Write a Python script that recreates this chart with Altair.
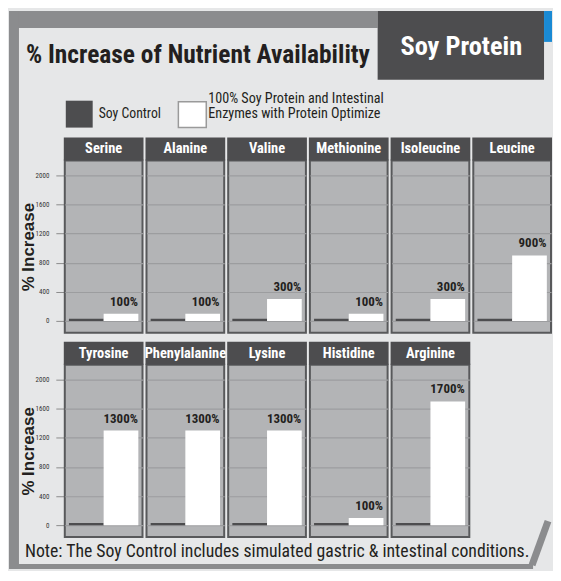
import altair as alt
import pandas as pd

aminos = ["Serine", "Alanine", "Valine", "Methionine", "Isoleucine", "Leucine",
          "Tyrosine", "Phenylalanine", "Lysine", "Histidine", "Arginine"]
series = ["Soy Control", "100% Soy Protein and Intestinal Enzymes with Protein Optimize"]
control_vals = [30, 30, 30, 30, 30, 30, 30, 30, 30, 30, 30]
optimize_vals = [100, 100, 300, 100, 300, 900, 1300, 1300, 1300, 100, 1700]
y_ticks = [0, 400, 800, 1200, 1600, 2000]

rows = []
for a, c, o in zip(aminos, control_vals, optimize_vals):
    rows.append({"amino": a, "series": series[0], "value": c, "label": ""})
    rows.append({"amino": a, "series": series[1], "value": o, "label": f"{o}%"})
df = pd.DataFrame(rows)

COND = "Roboto Condensed, Liberation Sans Narrow, DejaVu Sans Condensed, sans-serif"
SANS = "Liberation Sans, Arial, sans-serif"
DARK = "#4d4d4f"
FRAME = "#8b8c8e"
BG = "#e6e7e8"

W, H = 78, 173

x_enc = alt.X("series:N", sort=series, axis=None,
              scale=alt.Scale(paddingInner=0, paddingOuter=0.12))
y_axis = alt.Axis(values=y_ticks, title="% Increase", grid=True, format="d",
                  gridColor="#9c9d9f", gridWidth=1.2, domain=False, labelOverlap=False,
                  tickSize=9, tickColor="#8c8c8c", labelPadding=7,
                  labelFont=COND, labelFontSize=7, labelColor="#333333",
                  titleFont=SANS, titleFontSize=17, titleFontWeight="bold",
                  titleColor="#231f20", titlePadding=-2)
y_enc = alt.Y("value:Q", axis=y_axis,
              scale=alt.Scale(domain=[-164, 2205], nice=False, zero=False))

bars = alt.Chart().mark_bar().encode(
    x=x_enc, y=y_enc, y2=alt.datum(0),
    color=alt.Color("series:N", scale=alt.Scale(domain=series, range=[DARK, "#ffffff"]), legend=None),
)

labels = alt.Chart().transform_filter(
    alt.datum.series == series[1]
).mark_text(align="right", baseline="bottom", dx=17, dy=-5, font=COND,
            fontWeight="bold", fontSize=13, color="#231f20").encode(
    x=x_enc, y=y_enc, text="label:N"
)

one_per = alt.Chart().transform_filter(alt.datum.series == series[0])
head_rect = one_per.mark_rect(color=DARK).encode(
    x=alt.value(-1), x2=alt.value(W + 1), y=alt.value(-23), y2=alt.value(0))
head_text = one_per.mark_text(color="white", font=COND, fontWeight="bold",
                              fontSize=14.5, baseline="middle").encode(
    x=alt.value(W / 2), y=alt.value(-11), text="amino:N")

deco = alt.Chart().transform_filter(
    (alt.datum.amino == aminos[0]) & (alt.datum.series == series[0]))


def rect(x, x2, y, y2, color, **kw):
    return deco.mark_rect(color=color, **kw).encode(
        x=alt.value(x), x2=alt.value(x2), y=alt.value(y), y2=alt.value(y2))


def text(x, y, t, **kw):
    return deco.mark_text(text=t, **kw).encode(x=alt.value(x), y=alt.value(y))


L, T, R, B = -56, -150, 489, 410
layers = [
    rect(L, 314, T, -133, FRAME),
    rect(L, -46, T, B, FRAME),
    rect(L, 470, 405, B, FRAME),
    rect(314, 481, T, -81, DARK),
    rect(481, R, T, -119, "#1a8ad4"),
    deco.mark_rule(color=FRAME, strokeWidth=7).encode(
        x=alt.value(485), y=alt.value(362), x2=alt.value(469), y2=alt.value(406)),
    text(-39, -98, "% Increase of Nutrient Availability", align="left",
         baseline="alphabetic", font=COND, fontWeight="bold", fontSize=25.5, color="#231f20"),
    text(398, -114, "Soy Protein", align="center", baseline="middle", font=COND,
         fontWeight="bold", fontSize=26.5, color="white"),
    rect(1, 28, -60, -33, DARK),
    text(34, -47, series[0], align="left", baseline="middle", font=COND,
         fontSize=13.8, color="#231f20"),
    rect(114, 142, -59, -33, "white", stroke="#9a9a9a", strokeWidth=1.5),
    text(144, -62, ["100% Soy Protein and Intestinal", "Enzymes with Protein Optimize"],
         align="left", baseline="middle", font=COND, fontSize=14.2, lineHeight=15,
         color="#231f20"),
    text(-40, 393, "Note: The Soy Control includes simulated gastric & intestinal conditions.",
         align="left", baseline="middle", font=COND, fontSize=17.8, color="#231f20"),
]

inner = alt.layer(*layers, bars, labels, head_rect, head_text, data=df).properties(width=W, height=H)

hdr = alt.Header(labels=False, labelExpr="''", labelFontSize=1, labelColor="transparent",
                 labelPadding=0, title=None)

chart = inner.facet(
    facet=alt.Facet("amino:N", sort=aminos, header=hdr, title=None),
    columns=6,
    spacing={"row": 32, "column": 4},
    bounds="flush",
).properties(background=BG, padding=0).configure_view(
    fill="#b3b4b6", stroke="#58595b", strokeWidth=2
)

chart.save("out.html", embed_options={"renderer": "svg", "actions": False})
